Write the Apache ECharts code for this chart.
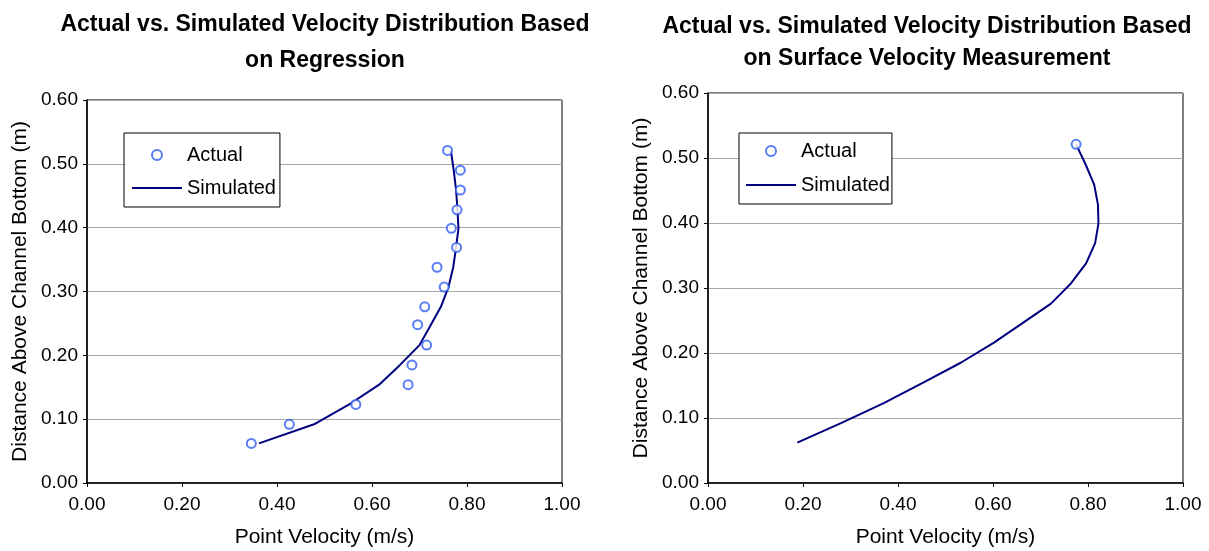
<!DOCTYPE html>
<html>
<head>
<meta charset="utf-8">
<script src="https://cdn.jsdelivr.net/npm/echarts@6/dist/echarts.min.js"></script>
<style>
html,body{margin:0;padding:0;background:#fff;}
#main{width:1209px;height:551px;}
</style>
</head>
<body>
<div id="main"></div>
<script>
// Heights above channel bottom (m)
const heights = [0.062, 0.092, 0.123, 0.154, 0.185, 0.216, 0.248, 0.276, 0.307, 0.338, 0.369, 0.399, 0.428, 0.459, 0.490, 0.521];
// Left chart: regression
const leftActual = [0.346, 0.426, 0.566, 0.676, 0.684, 0.715, 0.696, 0.711, 0.752, 0.737, 0.778, 0.767, 0.779, 0.786, 0.786, 0.759];
const leftSimulated = [0.362, 0.478, 0.552, 0.615, 0.659, 0.700, 0.724, 0.745, 0.761, 0.771, 0.777, 0.782, 0.780, 0.777, 0.772, 0.766];
// Right chart: surface velocity measurement
const rightActualX = [0.775];
const rightActualY = [0.521];
const rightSimulated = [0.188, 0.280, 0.370, 0.452, 0.532, 0.602, 0.666, 0.722, 0.764, 0.796, 0.815, 0.822, 0.821, 0.813, 0.795, 0.775];
const titles = ['Actual vs. Simulated Velocity Distribution Based\non Regression',
                'Actual vs. Simulated Velocity Distribution Based\non Surface Velocity Measurement'];
const xName = 'Point Velocity (m/s)';
const yName = 'Distance Above Channel Bottom (m)';

const FONT = '"Liberation Sans", Arial, Helvetica, sans-serif';
const zip = (xs, ys) => xs.map((x, i) => [x, ys[i]]);

function xAxis(gi) {
  return {
    gridIndex: gi, type: 'value', min: 0, max: 1, interval: 0.2,
    name: xName, nameLocation: 'middle', nameGap: 44,
    nameTextStyle: {fontFamily: FONT, fontSize: 21, color: '#000'},
    axisLine: {show: true, lineStyle: {color: '#000', width: 1.5}},
    axisTick: {show: true, length: 4, lineStyle: {color: '#000'}},
    axisLabel: {fontFamily: FONT, fontSize: 19, color: '#000', margin: 12,
                formatter: v => v.toFixed(2)},
    splitLine: {show: false}
  };
}
function yAxis(gi) {
  return {
    gridIndex: gi, type: 'value', min: 0, max: 0.6, interval: 0.1,
    name: yName, nameLocation: 'middle', nameGap: 56,
    nameTextStyle: {fontFamily: FONT, fontSize: 21, color: '#000'},
    axisLine: {show: true, lineStyle: {color: '#000', width: 1.5}},
    axisTick: {show: true, length: 4, lineStyle: {color: '#000'}},
    axisLabel: {fontFamily: FONT, fontSize: 19, color: '#000', margin: 9,
                formatter: v => v.toFixed(2)},
    splitLine: {show: true, lineStyle: {color: '#a6a6a6', width: 1}}
  };
}
function legend(left, top, pad, gap) {
  return {
    left: left, top: top, orient: 'vertical',
    backgroundColor: '#fff', borderColor: '#000', borderWidth: 1,
    padding: pad, itemGap: gap, itemWidth: 50, itemHeight: 10,
    textStyle: {fontFamily: FONT, fontSize: 20, color: '#000'},
    data: [{name: 'Actual'}, {name: 'Simulated', itemStyle: {opacity: 0}}]
  };
}

const chart = echarts.init(document.getElementById('main'));
chart.setOption({
  animation: false,
  backgroundColor: '#fff',
  title: [
    {text: titles[0], left: 320, top: 2, textAlign: 'center',
     textStyle: {fontFamily: FONT, fontSize: 23, fontWeight: 'bold', color: '#000', lineHeight: 36}},
    {text: titles[1], left: 922, top: 6, textAlign: 'center',
     textStyle: {fontFamily: FONT, fontSize: 23, fontWeight: 'bold', color: '#000', lineHeight: 32}}
  ],
  grid: [
    {left: 87, top: 100, width: 475, height: 383, show: true, borderColor: '#000', borderWidth: 1,
     backgroundColor: 'transparent', containLabel: false, outerBoundsMode: 'none'},
    {left: 708, top: 93, width: 475, height: 390, show: true, borderColor: '#000', borderWidth: 1,
     backgroundColor: 'transparent', containLabel: false, outerBoundsMode: 'none'}
  ],
  xAxis: [xAxis(0), xAxis(1)],
  yAxis: [yAxis(0), yAxis(1)],
  legend: [
    legend(124, 133, [12, 4, 9, 7], 13),
    legend(739, 133, [8, 2, 9, 6], 14)
  ],
  series: [
    {name: 'Simulated', type: 'line', xAxisIndex: 0, yAxisIndex: 0, data: zip(leftSimulated, heights),
     symbol: 'none', lineStyle: {color: '#000080', width: 2}, itemStyle: {color: '#000080'}, z: 2},
    {name: 'Actual', type: 'scatter', xAxisIndex: 0, yAxisIndex: 0, data: zip(leftActual, heights),
     symbol: 'emptyCircle', symbolSize: 9, itemStyle: {color: '#2f5cf0', borderColor: '#2f5cf0', borderWidth: 2}, z: 3},
    {name: 'Simulated', type: 'line', xAxisIndex: 1, yAxisIndex: 1, data: zip(rightSimulated, heights),
     symbol: 'none', lineStyle: {color: '#000080', width: 2}, itemStyle: {color: '#000080'}, z: 2},
    {name: 'Actual', type: 'scatter', xAxisIndex: 1, yAxisIndex: 1, data: zip(rightActualX, rightActualY),
     symbol: 'emptyCircle', symbolSize: 9, itemStyle: {color: '#2f5cf0', borderColor: '#2f5cf0', borderWidth: 2}, z: 3}
  ]
});
</script>
</body>
</html>
